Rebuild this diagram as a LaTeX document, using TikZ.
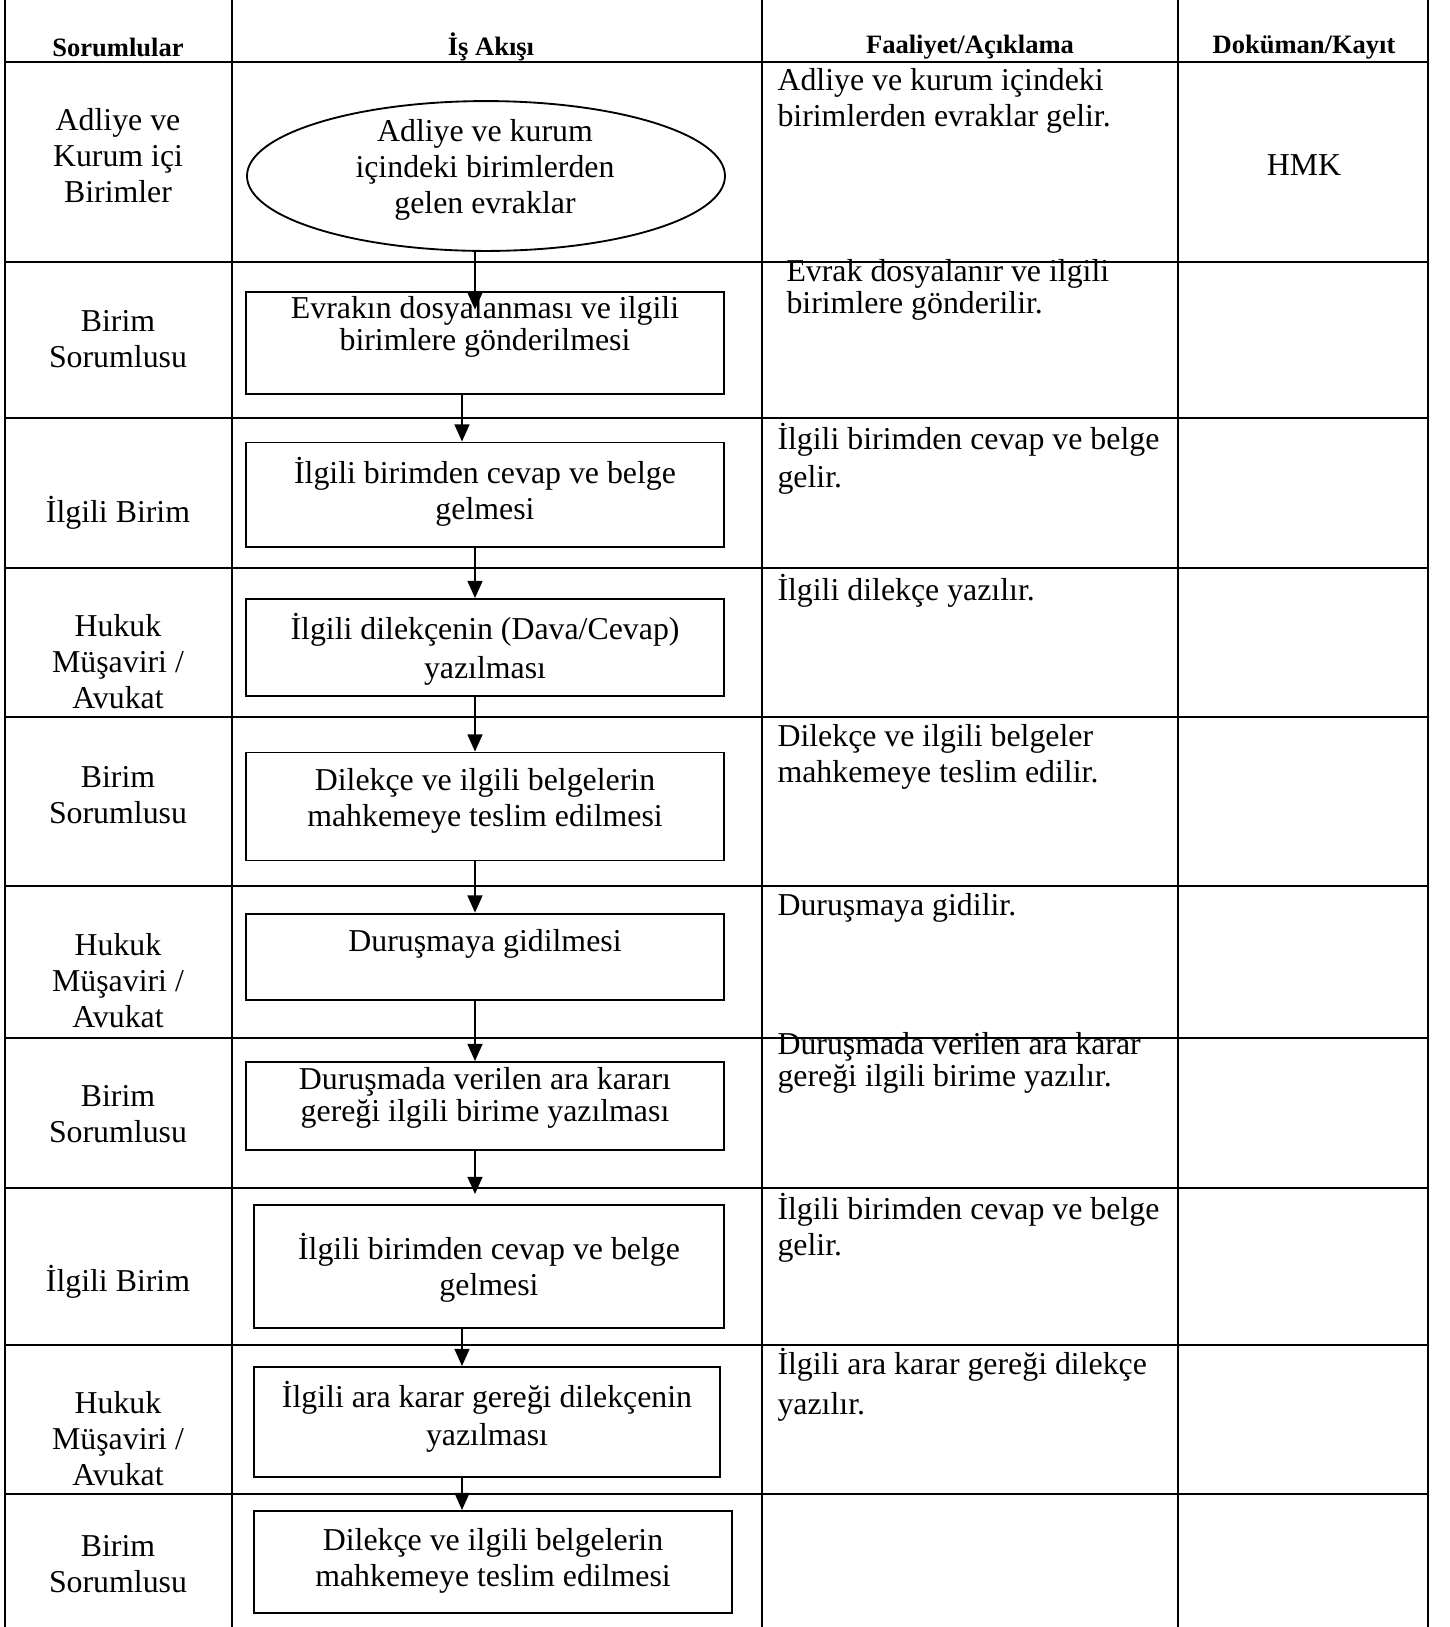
\documentclass[tikz,border=0pt]{standalone}
\usepackage{fontspec}
\setmainfont{Liberation Serif}
\usetikzlibrary{arrows.meta,shapes.geometric}
\begin{document}
\begin{tikzpicture}[x=0.377pt,y=-0.377pt,
  grid/.style={line width=0.95pt},
  head/.style={inner sep=0pt,font=\fontsize{10}{12}\selectfont\bfseries},
  cell/.style={align=center,inner sep=0pt,font=\fontsize{12}{13.6}\selectfont},
  note/.style={align=left,anchor=west,inner sep=0pt,font=\fontsize{12}{13.6}\selectfont},
  tight/.style={font=\fontsize{12}{10.2}\selectfont},
  box/.style={draw,line width=0.7pt,inner sep=0pt,minimum width=#1},
  flow/.style={line width=0.8pt,-{Triangle[width=5.6pt,length=6.5pt]}}]
\useasboundingbox (0,0) rectangle (1450,1627);
\foreach \y in {62,262,418,568,717,886,1038,1188,1345,1494} \draw[grid] (5,\y) -- (1428,\y);
\foreach \x in {5,232,762,1178,1428} \draw[grid] (\x,0) -- (\x,1627);
\node[head] (h1) at (118,47) {Sorumlular};
\node[head] (h2) at (491,47) {İş Akışı};
\node[head] (h3) at (970,47) {Faaliyet/Açıklama};
\node[head] (h4) at (1304,47) {Doküman/Kayıt};
\node[cell] (s1) at (118,156) {Adliye ve\\Kurum içi\\Birimler};
\node[cell] (s2) at (118,339) {Birim\\Sorumlusu};
\node[cell] (s3) at (118,513) {İlgili Birim};
\node[cell] (s4) at (118,662) {Hukuk\\Müşaviri /\\Avukat};
\node[cell] (s5) at (118,795) {Birim\\Sorumlusu};
\node[cell] (s6) at (118,981) {Hukuk\\Müşaviri /\\Avukat};
\node[cell] (s7) at (118,1114) {Birim\\Sorumlusu};
\node[cell] (s8) at (118,1282) {İlgili Birim};
\node[cell] (s9) at (118,1439) {Hukuk\\Müşaviri /\\Avukat};
\node[cell] (s10) at (118,1564) {Birim\\Sorumlusu};
\node[draw,ellipse,line width=0.7pt,inner sep=0pt,minimum width=180.2pt,minimum height=56.5pt] (start) at (486,176) {};
\node[box=180pt,minimum height=38.45pt] (b1) at (485,343) {};
\node[box=180pt,minimum height=39.3pt] (b2) at (485,494.6) {};
\node[box=180pt,minimum height=36.4pt] (b3) at (485,647.3) {};
\node[box=180pt,minimum height=40.7pt] (b4) at (485,806.5) {};
\node[box=180pt,minimum height=32.6pt] (b5) at (485,956.8) {};
\node[box=180pt,minimum height=33.2pt] (b6) at (485,1106) {};
\node[box=177pt,minimum height=46.4pt] (b7) at (489,1266.5) {};
\node[box=175.7pt,minimum height=41.5pt] (b8) at (487,1422) {};
\node[box=180.4pt,minimum height=38.5pt] (b9) at (493,1562) {};
\node[cell] (t0) at (485,170) {Adliye ve kurum\\içindeki birimlerden\\gelen evraklar};
\node[cell,tight] (t1) at (485,327) {Evrakın dosyalanması ve ilgili\\birimlere gönderilmesi};
\node[cell] (t2) at (485,492) {İlgili birimden cevap ve belge\\gelmesi};
\node[cell,font=\fontsize{12}{14.8}\selectfont] (t3) at (485,649) {İlgili dilekçenin (Dava/Cevap)\\yazılması};
\node[cell] (t4) at (485,801) {Dilekçe ve ilgili belgelerin\\mahkemeye teslim edilmesi};
\node[cell] (t5) at (485,944) {Duruşmaya gidilmesi};
\node[cell,tight] (t6) at (485,1098) {Duruşmada verilen ara kararı\\gereği ilgili birime yazılması};
\node[cell] (t7) at (489,1268) {İlgili birimden cevap ve belge\\gelmesi};
\node[cell,font=\fontsize{12}{14.5}\selectfont] (t8) at (487,1417) {İlgili ara karar gereği dilekçenin\\yazılması};
\node[cell] (t9) at (493,1561) {Dilekçe ve ilgili belgelerin\\mahkemeye teslim edilmesi};
\node[note] (f1) at (777,101) {Adliye ve kurum içindeki\\birimlerden evraklar gelir.};
\node[note,tight] (f2) at (786,290) {Evrak dosyalanır ve ilgili\\birimlere gönderilir.};
\node[note,font=\fontsize{12}{14.3}\selectfont] (f3) at (777,459) {İlgili birimden cevap ve belge\\gelir.};
\node[note] (f4) at (777,591) {İlgili dilekçe yazılır.};
\node[note] (f5) at (777,757) {Dilekçe ve ilgili belgeler\\mahkemeye teslim edilir.};
\node[note] (f6) at (777,908) {Duruşmaya gidilir.};
\node[note,tight] (f7) at (777,1063) {Duruşmada verilen ara karar\\gereği ilgili birime yazılır.};
\node[note] (f8) at (777,1228) {İlgili birimden cevap ve belge\\gelir.};
\node[note,font=\fontsize{12}{15}\selectfont] (f9) at (777,1385) {İlgili ara karar gereği dilekçe\\yazılır.};
\node[cell] (hmk) at (1304,165) {HMK};
\coordinate (ax) at (475,0);
\coordinate (bx) at (462,0);
\coordinate (e7) at (475,1194);
\draw[flow,shorten >=-7pt] (start.south -| ax) -- (b1.north -| ax);
\draw[flow] (b1.south -| bx) -- (b2.north -| bx);
\draw[flow] (b2.south -| ax) -- (b3.north -| ax);
\draw[flow] (b3.south -| ax) -- (b4.north -| ax);
\draw[flow] (b4.south -| ax) -- (b5.north -| ax);
\draw[flow] (b5.south -| ax) -- (b6.north -| ax);
\draw[flow] (b6.south -| e7) -- (e7);
\draw[flow] (b7.south -| bx) -- (b8.north -| bx);
\draw[flow] (b8.south -| bx) -- (b9.north -| bx);
\end{tikzpicture}
\end{document}
